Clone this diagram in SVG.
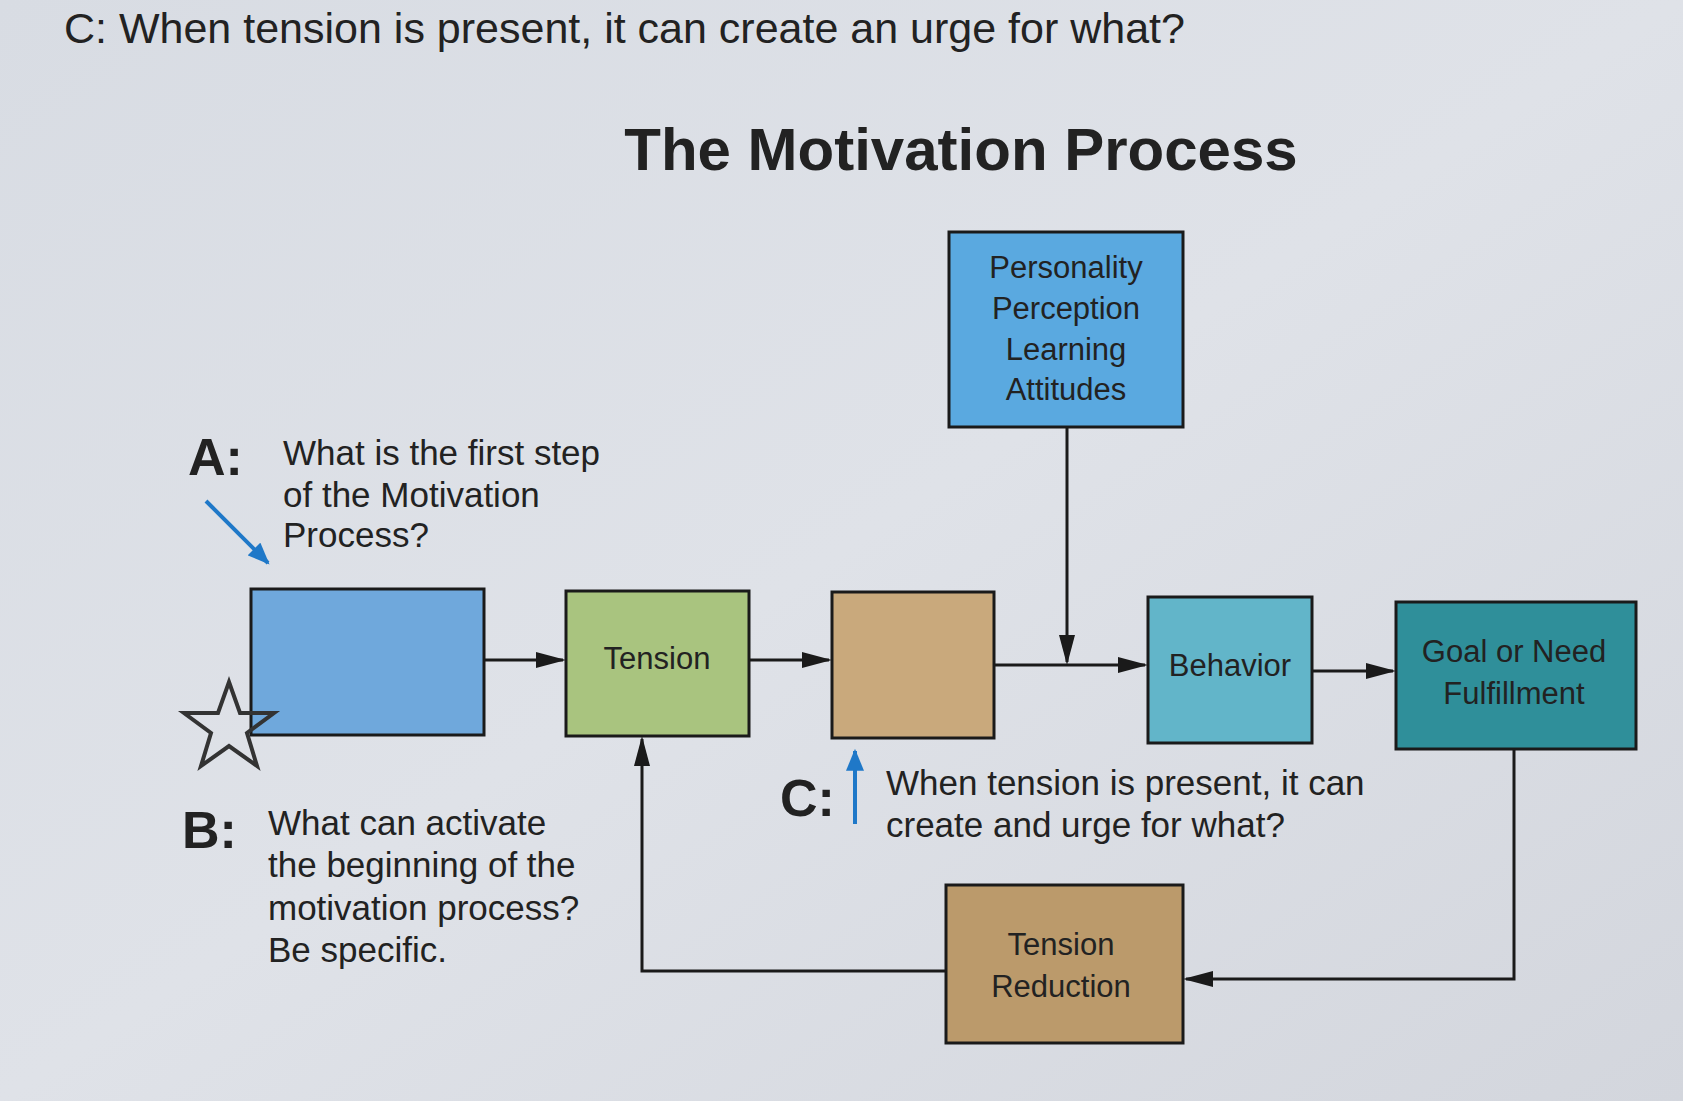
<svg xmlns="http://www.w3.org/2000/svg" width="1683" height="1101" viewBox="0 0 1683 1101">
<defs>
<style>
.t{font-family:"Liberation Sans",Arial,sans-serif;fill:#222}
.bx{stroke:#1a1a1a;stroke-width:3}
.ln{stroke:#1a1a1a;stroke-width:3;fill:none}
</style>
<marker id="ah" viewBox="0 0 10 10" refX="9" refY="5" markerWidth="30" markerHeight="16" orient="auto" markerUnits="userSpaceOnUse" preserveAspectRatio="none"><path d="M0,0L10,5L0,10z" fill="#1a1a1a"/></marker>
<marker id="ab" viewBox="0 0 10 10" refX="9" refY="5" markerWidth="22" markerHeight="18" orient="auto" markerUnits="userSpaceOnUse" preserveAspectRatio="none"><path d="M0,0L10,5L0,10z" fill="#1f78c8"/></marker>
<linearGradient id="bg" x1="0" y1="0" x2="1" y2="1"><stop offset="0" stop-color="#d8dce3"/><stop offset="0.5" stop-color="#dfe2e8"/><stop offset="1" stop-color="#d3d6dd"/></linearGradient>
</defs>
<rect width="1683" height="1101" fill="url(#bg)"/>
<text class="t" x="64" y="43" font-size="43">C: When tension is present, it can create an urge for what?</text>
<text class="t" x="961" y="170" font-size="60" font-weight="bold" text-anchor="middle">The Motivation Process</text>
<g id="connectors">
<line class="ln" x1="484" y1="660" x2="563" y2="660" marker-end="url(#ah)"/>
<line class="ln" x1="749" y1="660" x2="829" y2="660" marker-end="url(#ah)"/>
<line class="ln" x1="994" y1="665" x2="1145" y2="665" marker-end="url(#ah)"/>
<line class="ln" x1="1067" y1="427" x2="1067" y2="662" marker-end="url(#ah)"/>
<line class="ln" x1="1312" y1="671" x2="1393" y2="671" marker-end="url(#ah)"/>
<polyline class="ln" points="1514,749 1514,979 1186,979" marker-end="url(#ah)"/>
<polyline class="ln" points="946,971 642,971 642,739" marker-end="url(#ah)"/>
<line x1="855" y1="824" x2="855" y2="751" stroke="#1f78c8" stroke-width="4" marker-end="url(#ab)"/>
<line x1="206" y1="501" x2="268" y2="563" stroke="#1f78c8" stroke-width="4" marker-end="url(#ab)"/>
</g>
<g id="personality"><rect class="bx" x="949" y="232" width="234" height="195" fill="#5aa9e0"/>
<text class="t" font-size="31" text-anchor="middle"><tspan x="1066" y="278">Personality</tspan><tspan x="1066" y="319">Perception</tspan><tspan x="1066" y="360">Learning</tspan><tspan x="1066" y="400">Attitudes</tspan></text></g>
<g id="first"><rect class="bx" x="251" y="589" width="233" height="146" fill="#6fa8dc"/></g>
<g id="tension"><rect class="bx" x="566" y="591" width="183" height="145" fill="#a9c47f"/><text class="t" x="657" y="669" font-size="31" text-anchor="middle">Tension</text></g>
<g id="urge"><rect class="bx" x="832" y="592" width="162" height="146" fill="#c9a97c"/></g>
<g id="behavior"><rect class="bx" x="1148" y="597" width="164" height="146" fill="#62b5c9"/><text class="t" x="1230" y="676" font-size="31" text-anchor="middle">Behavior</text></g>
<g id="goal"><rect class="bx" x="1396" y="602" width="240" height="147" fill="#2f8f9a"/><text class="t" font-size="31" text-anchor="middle"><tspan x="1514" y="662">Goal or Need</tspan><tspan x="1514" y="704">Fulfillment</tspan></text></g>
<g id="reduction"><rect class="bx" x="946" y="885" width="237" height="158" fill="#bb9a6b"/><text class="t" font-size="31" text-anchor="middle"><tspan x="1061" y="955">Tension</tspan><tspan x="1061" y="997">Reduction</tspan></text></g>
<g id="star"><polygon points="229,682 240,713 274,713 247,733 257,766 229,746 201,766 211,733 184,713 218,713" fill="none" stroke="#333" stroke-width="4"/></g>
<g id="labels">
<text class="t" x="188" y="475" font-size="52" font-weight="bold" fill="#333">A:</text>
<text class="t" font-size="35" fill="#333"><tspan x="283" y="465">What is the first step</tspan><tspan x="283" y="507">of the Motivation</tspan><tspan x="283" y="547">Process?</tspan></text>
<text class="t" x="182" y="848" font-size="52" font-weight="bold">B:</text>
<text class="t" font-size="35" fill="#333"><tspan x="268" y="835">What can activate</tspan><tspan x="268" y="877">the beginning of the</tspan><tspan x="268" y="920">motivation process?</tspan><tspan x="268" y="962">Be specific.</tspan></text>
<text class="t" x="780" y="816" font-size="52" font-weight="bold">C:</text>
<text class="t" font-size="35" fill="#333"><tspan x="886" y="795">When tension is present, it can</tspan><tspan x="886" y="837">create and urge for what?</tspan></text>
</g>
</svg>
